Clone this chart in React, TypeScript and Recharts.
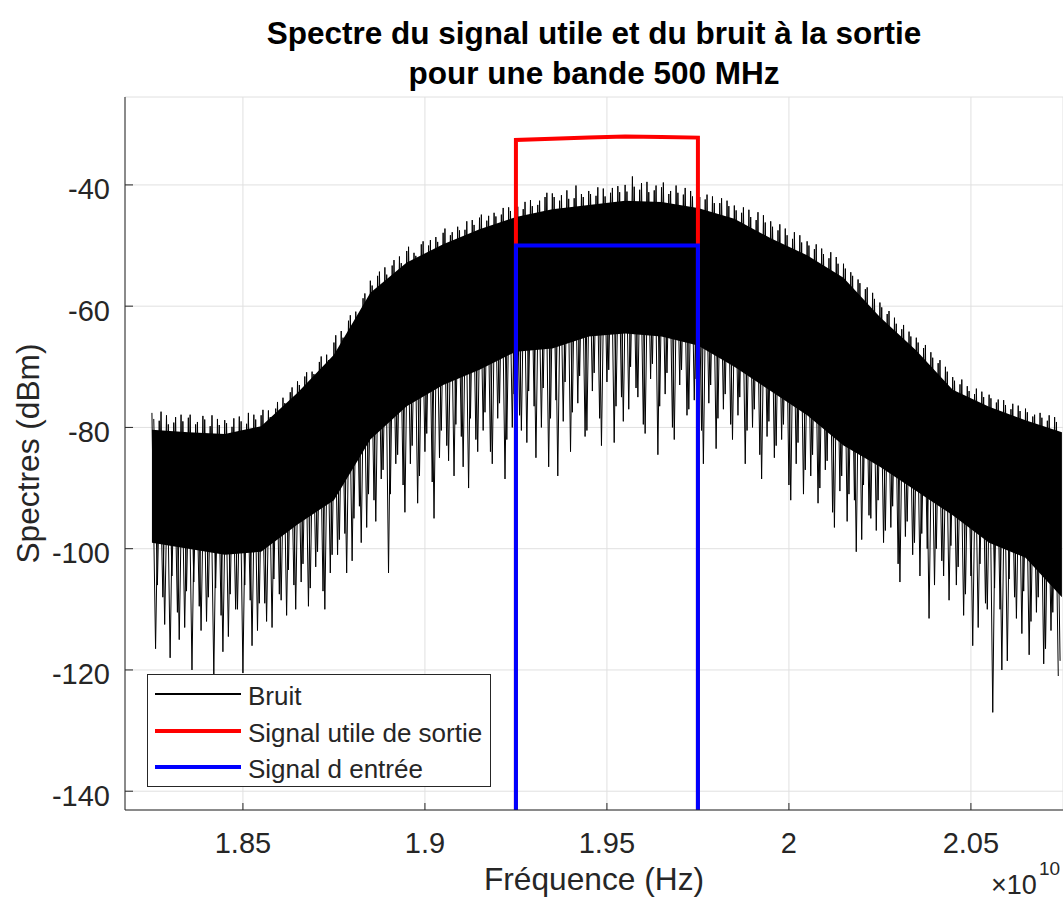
import React from "react";
import {
  ComposedChart,
  Line,
  Area,
  XAxis,
  YAxis,
  CartesianGrid,
  Legend,
} from "recharts";

const FONT = "'Liberation Sans', Arial, Helvetica, sans-serif";
const INK = "#262626";
const GRID = "#e0e0e0";

const FREQ_TICKS = [1.85, 1.9, 1.95, 2, 2.05];
const DBM_TICKS = [-140, -120, -100, -80, -60, -40];

// noise band: solid part of the spectrum, every 0.01 (x1e10 Hz)
const CORE_FREQ = [
  1.825, 1.835, 1.845, 1.855, 1.865, 1.875, 1.885, 1.895, 1.905, 1.915, 1.925,
  1.935, 1.945, 1.955, 1.965, 1.975, 1.985, 1.995, 2.005, 2.015, 2.025, 2.035,
  2.045, 2.055, 2.065, 2.075,
];
const CORE_TOP = [
  -80.4, -80.8, -81.1, -79.8, -74.3, -68.0, -57.8, -52.8, -49.8, -47.3, -45.3,
  -44.0, -43.3, -42.6, -42.8, -43.8, -45.6, -48.8, -51.6, -55.3, -61.8, -67.3,
  -73.8, -76.6, -78.8, -80.8,
];
const CORE_BOTTOM = [
  -99, -100, -101, -100.5, -96, -92, -82, -76.5, -73, -70.5, -67.5, -67, -65,
  -64.5, -65, -66.5, -70, -74, -78, -83, -86.5, -90.5, -94.5, -99, -101.5, -108,
];

// noise tips, pass A: peaks at 1.825 + 0.002k, dips at 1.826 + 0.002k
const A_PEAK_F0 = 1.825;
const A_DIP_F0 = 1.826;
// pass B: peaks at 1.8255 + 0.002k, dips at 1.8265 + 0.002k
const B_PEAK_F0 = 1.8255;
const B_DIP_F0 = 1.8265;
const TIP_STEP = 0.002;

const NOISE_PEAKS_A = [
  -77.6, -78.9, -78.0, -79.2, -77.9,
  -78.4, -79.5, -78.1, -79.8, -78.6,
  -78.8, -79.9, -78.2, -79.4, -77.9,
  -78.0, -77.2, -76.9, -75.1, -74.2,
  -72.4, -71.6, -70.8, -69.2, -68.0,
  -66.0, -64.1, -62.4, -60.9, -58.7,
  -55.8, -55.0, -53.6, -53.3, -51.8,
  -50.9, -51.2, -49.8, -50.0, -48.6,
  -47.9, -48.3, -46.9, -47.4, -45.8,
  -45.4, -45.9, -44.6, -44.9, -43.7,
  -43.1, -44.0, -42.5, -43.3, -42.0,
  -41.4, -42.6, -40.9, -42.2, -41.5,
  -41.0, -41.8, -40.6, -41.3, -40.2,
  -40.0, -38.6, -40.8, -39.5, -40.9,
  -40.4, -41.5, -40.1, -41.6, -41.0,
  -41.3, -42.4, -41.9, -43.0, -42.6,
  -43.4, -44.6, -44.1, -45.8, -45.0,
  -46.0, -47.5, -47.2, -48.9, -48.3,
  -49.3, -50.6, -50.5, -52.1, -51.9,
  -53.0, -54.4, -55.6, -57.2, -57.8,
  -59.4, -61.3, -61.9, -63.8, -64.2,
  -65.2, -66.9, -67.6, -69.4, -70.0,
  -71.7, -72.9, -73.2, -74.5, -74.1,
  -74.6, -75.9, -75.5, -77.0, -76.4,
  -76.9, -78.2, -77.6, -78.9, -78.3,
];
const NOISE_DIPS_A = [
  -116.5, -108.0, -118.0, -110.5, -113.0,
  -120.0, -109.5, -112.0, -121.0, -111.0,
  -114.5, -110.0, -120.5, -108.5, -113.5,
  -109.0, -113.0, -107.5, -111.0, -106.0,
  -105.5, -109.5, -103.0, -107.0, -104.0,
  -101.0, -97.5, -102.0, -93.0, -96.5,
  -92.0, -88.5, -104.0, -86.0, -89.5,
  -86.0, -92.5, -84.0, -89.0, -85.0,
  -83.0, -88.0, -81.5, -90.0, -82.0,
  -80.5, -84.0, -78.5, -88.5, -80.0,
  -78.0, -82.5, -76.5, -80.0, -86.5,
  -75.5, -79.0, -84.0, -76.0, -81.5,
  -74.0, -78.5, -72.5, -82.5, -75.0,
  -77.0, -73.5, -79.5, -72.0, -84.5,
  -74.5, -80.0, -73.0, -78.0, -75.5,
  -80.5, -76.0, -83.5, -77.0, -79.5,
  -78.0, -86.0, -80.0, -84.5, -81.5,
  -85.0, -82.0, -89.5, -86.0, -91.0,
  -88.0, -92.5, -87.0, -94.0, -90.5,
  -95.5, -92.0, -98.5, -94.5, -97.0,
  -99.0, -96.5, -102.5, -98.0, -101.0,
  -104.5, -100.0, -106.0, -102.0, -108.5,
  -106.0, -111.0, -104.5, -113.0, -109.0,
  -127.0, -110.0, -118.5, -108.0, -114.0,
  -117.5, -110.5, -119.0, -113.5, -121.0,
];
const NOISE_PEAKS_B = [
  -78.6, -77.4, -79.5, -78.3, -79.0,
  -77.9, -79.1, -78.7, -78.0, -79.6,
  -79.3, -78.5, -79.0, -77.6, -78.7,
  -77.1, -78.3, -75.8, -76.0, -73.4,
  -73.0, -70.9, -71.2, -68.3, -68.9,
  -64.8, -65.2, -61.5, -61.8, -57.9,
  -56.6, -54.3, -54.8, -52.4, -52.9,
  -50.2, -51.7, -49.3, -49.1, -49.4,
  -47.2, -47.8, -47.5, -46.0, -46.6,
  -44.9, -45.1, -45.2, -43.8, -44.3,
  -43.6, -42.8, -43.5, -42.6, -41.3,
  -42.0, -41.7, -42.3, -40.1, -42.0,
  -41.5, -40.4, -41.9, -40.5, -41.2,
  -41.1, -40.3, -39.7, -41.2, -40.1,
  -39.6, -41.0, -41.3, -40.5, -41.9,
  -42.0, -41.6, -43.0, -42.2, -43.5,
  -44.2, -43.7, -45.3, -44.5, -46.2,
  -46.9, -46.5, -48.3, -47.8, -49.5,
  -50.0, -49.8, -51.4, -51.1, -53.0,
  -53.8, -55.0, -56.2, -56.9, -58.8,
  -60.2, -60.8, -62.9, -63.1, -65.0,
  -66.0, -66.4, -68.5, -68.9, -70.8,
  -72.3, -72.1, -74.0, -73.6, -75.0,
  -75.2, -75.4, -76.3, -76.1, -77.3,
  -77.5, -77.9, -78.4, -78.0, -79.1,
];
const NOISE_DIPS_B = [
  -106.0, -112.5, -104.5, -115.0, -107.0,
  -105.5, -113.5, -108.0, -106.5, -117.0,
  -107.5, -110.0, -106.0, -116.0, -109.0,
  -112.0, -105.0, -108.5, -103.5, -110.0,
  -102.5, -106.5, -100.5, -110.0, -101.0,
  -98.5, -104.0, -95.0, -99.0, -91.0,
  -95.5, -87.0, -91.0, -84.5, -94.0,
  -83.0, -88.0, -81.0, -95.0, -80.5,
  -85.5, -79.5, -86.5, -78.5, -84.0,
  -77.5, -86.0, -76.0, -82.0, -74.5,
  -80.5, -74.0, -85.0, -73.5, -78.5,
  -88.0, -72.5, -77.5, -71.5, -80.5,
  -71.0, -83.0, -70.5, -76.5, -79.0,
  -70.0, -75.0, -81.0, -69.5, -76.5,
  -71.0, -82.0, -70.5, -77.0, -72.0,
  -86.0, -73.0, -78.5, -74.5, -82.0,
  -75.0, -80.5, -77.0, -88.5, -79.0,
  -83.0, -79.5, -92.0, -82.5, -87.0,
  -84.5, -90.0, -85.5, -96.5, -88.0,
  -91.0, -100.5, -89.5, -95.0, -92.0,
  -97.0, -93.0, -105.5, -95.5, -99.0,
  -97.5, -111.5, -100.0, -104.5, -99.5,
  -103.0, -107.5, -116.0, -102.5, -110.0,
  -106.5, -120.0, -105.0, -111.5, -107.0,
  -112.0, -108.0, -116.5, -110.5, -118.5,
];

// output useful signal (red) and input signal (blue)
const OUT_FREQ = [1.925, 1.925, 1.935, 1.945, 1.955, 1.965, 1.975, 1.975];
const OUT_DBM = [-150, -32.6, -32.4, -32.2, -32.0, -32.1, -32.2, -150];
const IN_FREQ = [1.925, 1.925, 1.975, 1.975];
const IN_DBM = [-150, -50, -50, -150];

const coreData = CORE_FREQ.map((f, i) => ({ f, range: [CORE_BOTTOM[i], CORE_TOP[i]] }));
const zigzag = (peaks: number[], dips: number[], pf0: number, df0: number) =>
  peaks.flatMap((p, k) => [
    { f: pf0 + k * TIP_STEP, v: p },
    { f: df0 + k * TIP_STEP, v: dips[k] },
  ]);
const noiseA = zigzag(NOISE_PEAKS_A, NOISE_DIPS_A, A_PEAK_F0, A_DIP_F0);
const noiseB = zigzag(NOISE_PEAKS_B, NOISE_DIPS_B, B_PEAK_F0, B_DIP_F0);
const outData = OUT_FREQ.map((f, i) => ({ f, v: OUT_DBM[i] }));
const inData = IN_FREQ.map((f, i) => ({ f, v: IN_DBM[i] }));

const XTick = ({ x, y, payload }: any) => (
  <g>
    <line x1={x} x2={x} y1={y} y2={y - 7} stroke={INK} />
    <text x={x} y={y + 43} textAnchor="middle" fontSize={29} fill={INK} fontFamily={FONT}>
      {String(payload.value)}
    </text>
  </g>
);

const YTick = ({ x, y, payload }: any) => (
  <g>
    <line x1={x} x2={x + 8} y1={y} y2={y} stroke={INK} />
    <text x={x - 15} y={y + 14.5} textAnchor="end" fontSize={29} fill={INK} fontFamily={FONT}>
      {String(payload.value)}
    </text>
  </g>
);

const XLabel = ({ viewBox }: any) => (
  <g>
    <text
      x={viewBox.x + viewBox.width / 2}
      y={890}
      textAnchor="middle"
      fontSize={31.7}
      fill={INK}
      fontFamily={FONT}
    >
      Fréquence (Hz)
    </text>
    <text x={991} y={894} fontSize={27} fill={INK} fontFamily={FONT}>
      ×10
    </text>
    <text x={1039} y={875} fontSize={19} fill={INK} fontFamily={FONT}>
      10
    </text>
  </g>
);

const YLabel = ({ viewBox }: any) => {
  const cy = viewBox.y + viewBox.height / 2;
  return (
    <text
      x={39}
      y={cy}
      transform={`rotate(-90 39 ${cy})`}
      textAnchor="middle"
      fontSize={31.7}
      fill={INK}
      fontFamily={FONT}
    >
      Spectres (dBm)
    </text>
  );
};

const legendItems = [
  { name: "Bruit", color: "#000000", width: 1.2 },
  { name: "Signal utile de sortie", color: "#ff0000", width: 4 },
  { name: "Signal d entrée", color: "#0000ff", width: 4 },
];

const LegendBox = () => (
  <div
    style={{
      position: "relative",
      width: 344,
      height: 113,
      boxSizing: "border-box",
      border: `1px solid ${INK}`,
      background: "#fff",
      fontFamily: FONT,
      fontSize: 26,
      color: INK,
    }}
  >
    {legendItems.map((item, i) => (
      <div key={item.name}>
        <div
          style={{
            position: "absolute",
            left: 7,
            top: 19 + i * 36.5 - item.width / 2,
            width: 86,
            height: item.width,
            background: item.color,
          }}
        />
        <div
          style={{
            position: "absolute",
            left: 100,
            top: 4 + i * 36.5,
            lineHeight: "34px",
            whiteSpace: "nowrap",
          }}
        >
          {item.name}
        </div>
      </div>
    ))}
  </div>
);

export default function App() {
  return (
    <div style={{ position: "absolute", left: 0, top: 0, width: 1063, height: 900, background: "#fff" }}>
      <div
        style={{
          position: "absolute",
          left: 125,
          top: 13,
          width: 938,
          textAlign: "center",
          fontFamily: FONT,
          fontWeight: "bold",
          fontSize: 31.5,
          lineHeight: "40px",
          color: "#000",
          zIndex: 2,
        }}
      >
        Spectre du signal utile et du bruit à la sortie
        <br />
        pour une bande 500 MHz
      </div>
      <ComposedChart
        width={1063}
        height={900}
        margin={{ top: 97, right: 0, bottom: 0, left: 0 }}
      >
        <CartesianGrid stroke={GRID} strokeWidth={1} />
        <XAxis
          dataKey="f"
          type="number"
          domain={[1.8176, 2.0753]}
          allowDataOverflow
          ticks={FREQ_TICKS}
          interval={0}
          height={90}
          tickSize={0}
          tickMargin={0}
          tickLine={false}
          axisLine={{ stroke: INK }}
          tick={<XTick />}
          label={<XLabel />}
        />
        <YAxis
          type="number"
          domain={[-143.1, -25.5]}
          allowDataOverflow
          ticks={DBM_TICKS}
          interval={0}
          width={125}
          tickSize={0}
          tickMargin={0}
          tickLine={false}
          axisLine={{ stroke: INK }}
          tick={<YTick />}
          label={<YLabel />}
        />
        <Area
          data={coreData}
          dataKey="range"
          type="linear"
          stroke="none"
          fill="#000"
          fillOpacity={1}
          isAnimationActive={false}
          legendType="none"
        />
        <Line
          data={noiseA}
          dataKey="v"
          name="Bruit"
          type="linear"
          stroke="#000"
          strokeWidth={1}
          dot={false}
          activeDot={false}
          isAnimationActive={false}
        />
        <Line
          data={noiseB}
          dataKey="v"
          name="Bruit B"
          type="linear"
          stroke="#000"
          strokeWidth={1}
          dot={false}
          activeDot={false}
          isAnimationActive={false}
          legendType="none"
        />
        <Line
          data={outData}
          dataKey="v"
          name="Signal utile de sortie"
          type="linear"
          stroke="#ff0000"
          strokeWidth={4}
          dot={false}
          activeDot={false}
          isAnimationActive={false}
        />
        <Line
          data={inData}
          dataKey="v"
          name="Signal d entrée"
          type="linear"
          stroke="#0000ff"
          strokeWidth={4}
          dot={false}
          activeDot={false}
          isAnimationActive={false}
        />
        <Legend
          layout="horizontal"
          verticalAlign="middle"
          align="center"
          content={() => <LegendBox />}
          wrapperStyle={{ left: 147, top: 674, width: 344, height: 113 }}
        />
      </ComposedChart>
    </div>
  );
}
